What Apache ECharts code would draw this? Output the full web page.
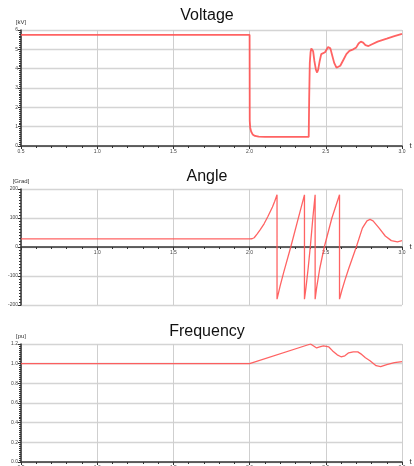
<!DOCTYPE html>
<html>
<head>
<meta charset="utf-8">
<script src="https://cdn.jsdelivr.net/npm/echarts@6/dist/echarts.min.js"></script>
<style>
  html, body { margin: 0; padding: 0; background: #fff; }
  #chart { width: 414px; height: 466px; }
</style>
</head>
<body>
<div id="chart"></div>
<script>
const panelTitles = ['Voltage', 'Angle', 'Frequency'];
const unitNames = ['[kV]', '[Grad]', '[pu]'];
const timeName = 't [s]';

const voltageT = [0.5, 2.0, 2.001, 2.004, 2.01, 2.02, 2.035, 2.06, 2.1, 2.388, 2.391, 2.395, 2.40, 2.405, 2.41, 2.417, 2.425, 2.435, 2.443, 2.45, 2.46, 2.47, 2.48, 2.495, 2.505, 2.515, 2.522, 2.53, 2.54, 2.555, 2.57, 2.58, 2.595, 2.615, 2.635, 2.655, 2.68, 2.70, 2.715, 2.73, 2.745, 2.76, 2.78, 2.8, 2.84, 2.9, 2.95, 3.0];
const voltageV = [5.75, 5.75, 1.3, 0.95, 0.75, 0.6, 0.52, 0.48, 0.47, 0.47, 2.5, 4.3, 4.85, 5.05, 5.1, 4.9, 4.4, 3.95, 3.8, 3.95, 4.4, 4.75, 4.85, 4.85, 4.95, 5.12, 5.17, 5.05, 4.75, 4.3, 4.05, 4.02, 4.15, 4.45, 4.75, 4.92, 5.0, 5.1, 5.3, 5.4, 5.35, 5.22, 5.17, 5.25, 5.4, 5.55, 5.68, 5.8];

const angleT = [0.5, 2.0, 2.016, 2.03, 2.05, 2.07, 2.095, 2.12, 2.15, 2.165, 2.18, 2.18, 2.2, 2.225, 2.27, 2.315, 2.36, 2.36, 2.37, 2.385, 2.40, 2.415, 2.43, 2.43, 2.44, 2.46, 2.49, 2.54, 2.59, 2.59, 2.605, 2.625, 2.65, 2.70, 2.74, 2.77, 2.79, 2.81, 2.85, 2.89, 2.93, 2.97, 3.0];
const angleV = [28, 28, 28.5, 32, 45, 60, 80, 105, 138, 158, 180, -180, -135, -85, 0, 90, 180, -180, -140, -70, 10, 100, 180, -180, -140, -75, 0, 100, 180, -180, -150, -115, -75, 0, 65, 90, 95, 90, 65, 38, 22, 18, 22];

const freqT = [0.5, 2.0, 2.4, 2.41, 2.42, 2.44, 2.46, 2.485, 2.52, 2.545, 2.575, 2.6, 2.625, 2.65, 2.68, 2.71, 2.73, 2.76, 2.79, 2.83, 2.86, 2.9, 2.95, 3.0];
const freqV = [1.0, 1.0, 1.2, 1.2, 1.18, 1.16, 1.17, 1.18, 1.17, 1.13, 1.09, 1.07, 1.08, 1.11, 1.12, 1.12, 1.1, 1.06, 1.03, 0.98, 0.97, 0.99, 1.01, 1.02];

const yRanges = [
    { min: 0, max: 6, interval: 1, digits: 0 },
    { min: -200, max: 200, interval: 100, digits: 0 },
    { min: 0, max: 1.2, interval: 0.2, digits: 1 }
];
const gridTops = [30, 189, 344];
const gridHeights = [116, 116, 118];
const titleTops = [3, 164, 319];
// angle panel: time axis runs through y = 0, half way up the grid
const xAxisOffsets = [0, -58, 0];

const zip = (xs, ys) => xs.map((x, i) => [x, ys[i]]);
const seriesData = [zip(voltageT, voltageV), zip(angleT, angleV), zip(freqT, freqV)];
const lineWidths = [1.8, 1.3, 1.3];

const font = 'Liberation Sans, Arial, sans-serif';
const axisDark = '#333';

function initChart() {
    const chart = echarts.init(document.getElementById('chart'));

    chart.setOption({
        backgroundColor: '#fff',
        animation: false,
        title: panelTitles.map((t, i) => ({
            text: t,
            left: 'center',
            top: titleTops[i],
            textStyle: { fontSize: 16, fontWeight: 'normal', color: '#111', fontFamily: font }
        })),
        grid: gridTops.map((top, i) => ({
            left: 21,
            right: 12,
            top: top,
            height: gridHeights[i],
            outerBoundsMode: 'none',
            containLabel: false
        })),
        xAxis: gridTops.map((_, i) => ({
            type: 'value',
            gridIndex: i,
            min: 0.5,
            max: 3,
            interval: 0.5,
            offset: xAxisOffsets[i],
            name: timeName,
            nameLocation: 'end',
            nameGap: 3,
            nameTextStyle: { fontSize: 8, color: '#333', fontFamily: font, padding: [0, 0, 5, 0] },
            axisLine: { onZero: false, lineStyle: { color: axisDark, width: 1.5 } },
            axisTick: { show: true, length: 3, lineStyle: { color: axisDark } },
            minorTick: { show: true, splitNumber: 5, length: 2, lineStyle: { color: axisDark } },
            axisLabel: {
                fontSize: 5,
                color: '#444',
                margin: 3,
                fontFamily: font,
                showMinLabel: i !== 1,
                formatter: v => v.toFixed(1)
            },
            splitLine: { show: true, lineStyle: { color: '#cfcfcf', width: 1 } }
        })),
        yAxis: yRanges.map((r, i) => ({
            type: 'value',
            gridIndex: i,
            min: r.min,
            max: r.max,
            interval: r.interval,
            name: unitNames[i],
            nameLocation: 'end',
            nameGap: 5,
            nameTextStyle: { fontSize: 6, color: '#333', fontFamily: font, align: 'center' },
            axisLine: { show: true, lineStyle: { color: axisDark, width: 1.5 } },
            axisTick: { show: true, length: 3, lineStyle: { color: axisDark } },
            minorTick: { show: true, splitNumber: 10, length: 2, lineStyle: { color: axisDark } },
            axisLabel: {
                fontSize: 5,
                color: '#444',
                margin: 3,
                fontFamily: font,
                formatter: v => v.toFixed(r.digits)
            },
            splitLine: { show: true, lineStyle: { color: '#d4d4d4', width: 1.4 } }
        })),
        series: seriesData.map((d, i) => ({
            type: 'line',
            xAxisIndex: i,
            yAxisIndex: i,
            data: d,
            showSymbol: false,
            lineStyle: { color: '#ff5252', width: lineWidths[i], opacity: 0.9 }
        }))
    });

    return chart;
}

initChart();
</script>
</body>
</html>
